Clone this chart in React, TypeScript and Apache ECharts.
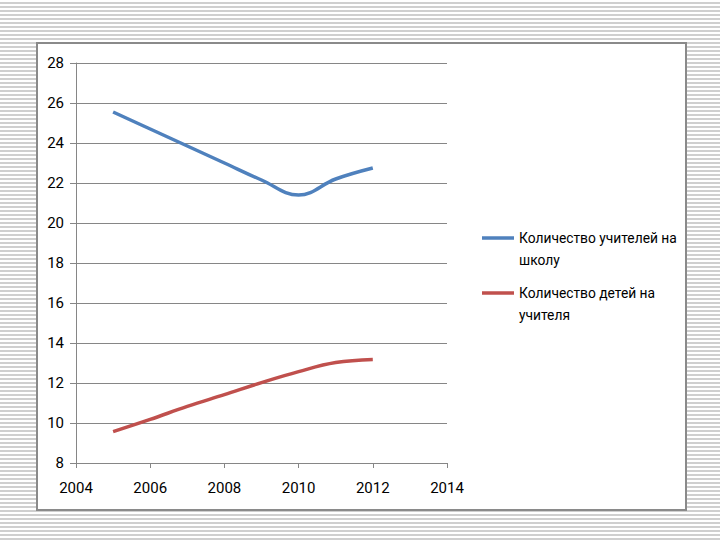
import React, { useEffect, useRef } from "react";
import * as echarts from "echarts";

const years = [2005, 2006, 2007, 2008, 2009, 2010, 2011, 2012];
const teachersPerSchool = [25.55, 24.7, 23.85, 23.0, 22.15, 21.4, 22.2, 22.75];
const childrenPerTeacher = [9.57, 10.18, 10.83, 11.42, 12.02, 12.57, 13.02, 13.18];
const seriesNames = ["Количество учителей на школу", "Количество детей на учителя"];
const legendLabels: Record<string, string> = {
  "Количество учителей на школу": " \nКоличество учителей на\nшколу",
  "Количество детей на учителя": " \nКоличество детей на\nучителя",
};

const FONT = "Roboto, 'Liberation Sans', sans-serif";

export default function App() {
  const ref = useRef<HTMLDivElement>(null);
  useEffect(() => {
    if (!ref.current) return;
    const chart = echarts.init(ref.current, null, { renderer: "svg" });
    const legendCommon = {
      orient: "vertical",
      left: 482,
      padding: 0,
      itemWidth: 32,
      itemHeight: 3.5,
      icon: "rect",
      formatter: (n: string) => legendLabels[n] ?? n,
      textStyle: {
        fontFamily: FONT,
        fontSize: 13.8,
        color: "#000",
        lineHeight: 22,
      },
    };
    chart.setOption({
      animation: false,
      graphic: [
        {
          type: "rect",
          z: -10,
          shape: { x: 37, y: 43, width: 649, height: 467 },
          style: { fill: "#fff", stroke: "#8a8a8a", lineWidth: 2 },
        },
      ],
      legend: [
        { ...legendCommon, top: 205, data: [seriesNames[0]] },
        { ...legendCommon, top: 260, data: [seriesNames[1]] },
      ],
      grid: { left: 76, right: 273, top: 63, bottom: 77 },
      xAxis: {
        type: "value",
        min: 2004,
        max: 2014,
        interval: 2,
        axisLine: { show: true, lineStyle: { color: "#868686" } },
        axisTick: { show: true, length: 5, lineStyle: { color: "#868686" } },
        splitLine: { show: false },
        axisLabel: {
          fontFamily: FONT,
          fontSize: 15,
          color: "#000",
          margin: 17,
          formatter: (v: number) => String(v),
        },
      },
      yAxis: {
        type: "value",
        min: 8,
        max: 28,
        interval: 2,
        axisLine: { show: true, lineStyle: { color: "#868686" } },
        axisTick: { show: true, length: 6, lineStyle: { color: "#868686" } },
        splitLine: { show: true, lineStyle: { color: "#868686", width: 1 } },
        axisLabel: { fontFamily: FONT, fontSize: 15, color: "#000", margin: 12 },
      },
      series: [
        {
          name: seriesNames[0],
          type: "line",
          smooth: 0.4,
          symbol: "none",
          lineStyle: { color: "#4F81BD", width: 3.5 },
          itemStyle: { color: "#4F81BD" },
          data: years.map((y, i) => [y, teachersPerSchool[i]]),
        },
        {
          name: seriesNames[1],
          type: "line",
          smooth: 0.4,
          symbol: "none",
          lineStyle: { color: "#C0504D", width: 3.5 },
          itemStyle: { color: "#C0504D" },
          data: years.map((y, i) => [y, childrenPerTeacher[i]]),
        },
      ],
    });
    return () => chart.dispose();
  }, []);
  return (
    <div
      style={{
        position: "absolute",
        left: 0,
        top: 0,
        width: 720,
        height: 540,
        background:
          "repeating-linear-gradient(to bottom, #ffffff 0px, #ffffff 2.5px, #cfcfcf 2.5px, #cfcfcf 4px)",
      }}
    >
      <div ref={ref} style={{ width: 720, height: 540 }} />
    </div>
  );
}
